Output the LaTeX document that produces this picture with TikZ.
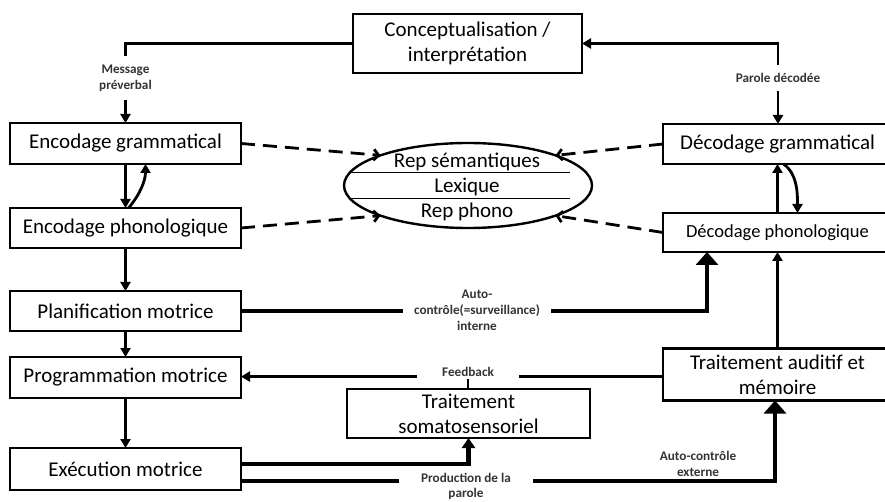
\documentclass[tikz,border=0pt]{standalone}
\usepackage{fontspec}
\setmainfont{Carlito}
\usetikzlibrary{arrows.meta,shapes.geometric,calc}

\begin{document}
\begin{tikzpicture}[x=1pt,y=-1pt,
  box/.style={draw, line width=2.4pt, inner sep=0pt, outer sep=0pt, align=center,
    font=\fontsize{21}{25}\selectfont},
  lab/.style={inner sep=2pt, align=center, text=black!80,
    font=\bfseries\fontsize{13.2}{16}\selectfont},
  conn/.style={line width=2.8pt},
  heavy/.style={line width=4.2pt},
  tip/.style={-{Triangle[length=9pt,width=10pt]}},
  midtip/.style={-{Triangle[length=10pt,width=13pt]}},
  bigtip/.style={-{Triangle[length=13pt,width=22pt]}},
  dashlink/.style={line width=2.8pt, dash pattern=on 14pt off 8pt,
    -{Straight Barb[length=5pt,width=11pt]}}
]
\useasboundingbox (0,0) rectangle (885,502);

% production chain (left column)
\node[box, minimum width=229pt, minimum height=59pt] (concept) at (467.5,43.5) {Conceptualisation /\\interprétation};
\node[box, minimum width=231pt, minimum height=41pt] (encg) at (125.5,143.5) {Encodage grammatical};
\node[box, minimum width=231pt, minimum height=40pt] (encp) at (125.5,228) {Encodage phonologique};
\node[box, minimum width=231pt, minimum height=40pt] (plan) at (125.5,311) {Planification motrice};
\node[box, minimum width=231pt, minimum height=41pt] (prog) at (125.5,377.5) {Programmation motrice};
\node[box, minimum width=231pt, minimum height=42pt] (exec) at (125.5,469) {Exécution motrice};

% perception chain (right column)
\node[box, minimum width=229pt, minimum height=40pt] (decg) at (777.5,144) {Décodage grammatical};
\node[box, minimum width=229pt, minimum height=39pt, font=\fontsize{18.5}{22}\selectfont] (decp) at (777.5,232.5) {Décodage phonologique};
\node[box, minimum width=229pt, minimum height=52pt] (audit) at (777.5,374.5) {Traitement auditif et\\mémoire};
\node[box, minimum width=243pt, minimum height=49pt] (somato) at (468.5,413.5) {Traitement\\somatosensoriel};

% shared lexicon
\node[draw, ellipse, line width=2.4pt, minimum width=248pt, minimum height=85pt,
      inner sep=0pt, outer sep=0pt] (lex) at (468,185.5) {};
\node[align=center, inner sep=0pt, font=\fontsize{21}{25}\selectfont] (lextxt) at (467,187)
  {Rep sémantiques\\Lexique\\Rep phono};
\draw[line width=1pt] (350,173) -- (570,173);
\draw[line width=1pt] (350,199) -- (570,199);

% labels on connectors
\node[lab, inner ysep=8pt] (msg) at (125.5,78) {Message\\préverbal};
\node[lab, inner ysep=8pt] (pd) at (778,78) {Parole décodée};
\node[lab, inner xsep=11pt] (ai) at (477,310) {Auto-\\contrôle(=surveillance)\\interne};
\node[lab, inner xsep=25pt, inner ysep=2pt] (fb) at (468,372) {Feedback};
\node[lab, inner xsep=22pt, font=\bfseries\fontsize{13.2}{15}\selectfont] (prod) at (466,486) {Production de la\\parole};
\node[lab] (ae) at (698,464) {Auto-contrôle\\externe};

% top loop
\draw[conn] (concept.west) -| (msg.north);
\draw[conn,tip] (msg.south) -- (encg.north);
\draw[conn,tip] (pd.north) |- (concept.east);
\draw[conn,tip] (pd.south) -- (pd.south |- decg.north);

% encoding steps
\draw[conn,tip] (encg.south) -- (encp.north);
\draw[conn,tip] ($(encp.north)+(3,0)$) .. controls +(12,-14) and +(0,16) .. ($(encg.south)+(20,0)$);
\draw[conn,tip] (encp.south) -- (plan.north);
\draw[conn,tip] (plan.south) -- (prog.north);
\draw[conn,tip] (prog.south) -- (exec.north);

% decoding steps
\draw[conn,tip] (decp.north) -- (decg.south);
\draw[conn,tip] ($(decg.south)+(6,0)$) .. controls +(14,10) and +(0,-20) .. ($(decp.north)+(20,0)$);
\draw[conn,tip] (audit.north) -- (decp.south);

% links to the lexicon
\draw[dashlink] (encg.east) -- (lex.161);
\draw[dashlink] (encp.east) -- (lex.199);
\draw[dashlink] (decg.west) -- (lex.19);
\draw[dashlink] (decp.west) -- (lex.-19);

% internal self-monitoring
\coordinate (aiturn) at (707,311);
\draw[heavy] (plan.east) -- (plan.east -| ai.west);
\draw[heavy,bigtip] (plan.east -| ai.east) -- (aiturn) -- (aiturn |- decp.south);

% feedback
\draw[conn] (audit.west |- fb.base) -- (fb.base east);
\draw[conn,tip] (fb.base west) -- (fb.base west -| prog.east);
\draw[conn] (somato.north -| fb.south) -- (fb.south);

% speech output
\coordinate (pout) at ($(exec.east)+(0,12)$);
\coordinate (aturn) at (775,481);
\draw[heavy,midtip] ($(exec.east)+(0,-5)$) -| (somato.south);
\draw[heavy] (pout) -- (pout -| prod.west);
\draw[heavy,bigtip] (pout -| prod.east) -- (aturn) -- (aturn |- audit.south);
\end{tikzpicture}
\end{document}
